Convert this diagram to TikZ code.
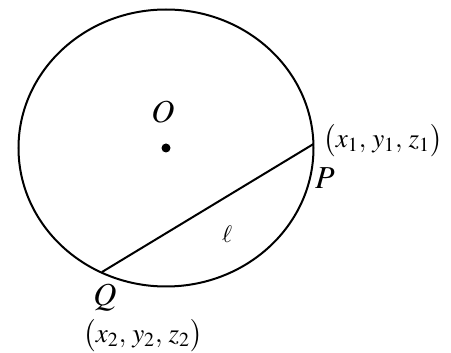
\documentclass[tikz,border=0pt]{standalone}
\usepackage{mathptmx}
\usepackage{tikz}
\usetikzlibrary{positioning}
\tikzset{
  sphereline/.style={line width=1pt, black},
  chordline/.style={line width=1pt, black},
  centredot/.style={circle, fill=black, inner sep=0pt, minimum size=4.5pt},
  ptlabel/.style={font=\fontsize{16}{18}\selectfont, inner sep=1pt},
  coordlabel/.style={font=\fontsize{13.5}{16}\selectfont, inner sep=1pt},
  linelabel/.style={font=\fontsize{12}{14}\selectfont, inner sep=1pt}
}

\begin{document}
\begin{tikzpicture}[x=0.5pt, y=-0.5pt]
  \useasboundingbox (0,0) rectangle (451,353);
  \draw[sphereline] (166,148) ellipse [x radius=147.5, y radius=138.5];
  \node[centredot] (O) at (166,148) {};
  \node[ptlabel] (Olabel) at (163,112) {$O$};
  \coordinate (P) at (313.5,144);
  \coordinate (Q) at (102,272);
  \draw[chordline] (Q) -- (P);
  \node[ptlabel] (Plabel) at (325,178) {$P$};
  \node[ptlabel] (Qlabel) at (105,298) {$Q$};
  \node[coordlabel] (Pcoord) at (383,141) {$\bigl(x_1,\,y_1,\,z_1\bigr)$};
  \node[coordlabel] (Qcoord) at (143,336) {$\bigl(x_2,\,y_2,\,z_2\bigr)$};
  \node[linelabel] (ell) at (227,234) {$\ell$};
\end{tikzpicture}
\end{document}
